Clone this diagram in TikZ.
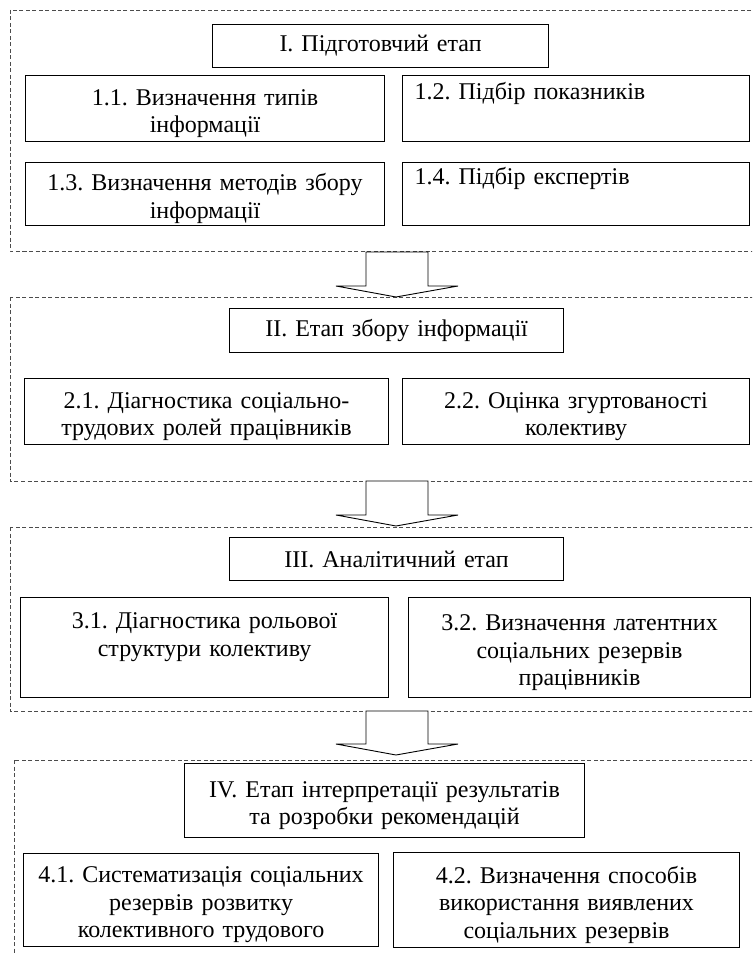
\documentclass[tikz,border=0pt]{standalone}
\usepackage{fontspec}
\setmainfont{Liberation Serif}
\usepackage{tikz}
\frenchspacing
\newcommand{\padtop}{\rule{0pt}{26pt}}

\begin{document}
\begin{tikzpicture}[x=1pt,y=-1pt,
    stageframe/.style={draw=black!70, line width=.8pt, dash pattern=on 4pt off 2.5pt},
    cell/.style={draw, line width=1.1pt, anchor=north west, inner xsep=6pt, inner ysep=0pt,
      align=center, font=\fontsize{24}{27.5}\selectfont},
    leftcell/.style={cell, align=left, inner xsep=12pt},
    blockarrow/.style={draw, fill=white, line width=.9pt, line join=miter}]
    \clip (0,0) rectangle (752,955);
    \fill[white] (0,0) rectangle (752,955);
    \draw[stageframe] (10,10) rectangle (770,251);
    \draw[stageframe] (10,297) rectangle (770,481);
    \draw[stageframe] (10,527) rectangle (770,711);
    \draw[stageframe] (14,760) rectangle (770,962);
    \node[cell, text width=324pt, minimum height=43pt] (prep) at (212,24) {I. Підготовчий етап};
    \node[cell, text width=347pt, minimum height=66pt] (types) at (25,75) {\padtop 1.1. Визначення типів\\ інформації};
    \node[leftcell, text width=323pt, minimum height=66pt] (indic) at (402,75) {1.2. Підбір показників\\ \strut};
    \node[cell, text width=347pt, minimum height=63pt] (methods) at (25,162) {\padtop 1.3. Визначення методів збору\\ інформації};
    \node[leftcell, text width=323pt, minimum height=63pt] (experts) at (402,162) {1.4. Підбір експертів\\ \strut};
    \node[cell, text width=322pt, minimum height=44pt] (collect) at (229,308) {II. Етап збору інформації};
    \node[cell, text width=352pt, minimum height=66pt] (roles) at (24,378) {\padtop 2.1. Діагностика соціально-\\ трудових ролей працівників};
    \node[cell, text width=335pt, minimum height=66pt] (cohesion) at (402,378) {\padtop 2.2. Оцінка згуртованості\\ колективу};
    \node[cell, text width=322pt, minimum height=43pt] (analysis) at (229,537) {III. Аналітичний етап};
    \node[cell, text width=356pt, minimum height=100pt] (structure) at (20,597) {\padtop 3.1. Діагностика рольової\\ структури колективу\\ \strut};
    \node[cell, text width=330pt, minimum height=100pt] (latent) at (408,597) {\padtop 3.2. Визначення латентних\\ соціальних резервів\\ працівників};
    \node[cell, text width=388pt, minimum height=74pt] (interp) at (184,763) {\padtop IV. Етап інтерпретації результатів\\ та розробки рекомендацій};
    \node[cell, text width=343pt, minimum height=93pt] (system) at (23,853) {\padtop 4.1. Систематизація соціальних\\ резервів розвитку\\ колективного трудового};
    \node[cell, text width=334pt, minimum height=95pt] (usage) at (393,852) {\padtop 4.2. Визначення способів\\ використання виявлених\\ соціальних резервів};
    \foreach \ya/\yb in {252/297, 481/526, 711/755}
      \draw[blockarrow] (366,\ya) -- (366,\yb-11) -- (336,\yb-11) -- (396,\yb) -- (458,\yb-11) -- (428,\yb-11) -- (428,\ya) -- cycle;
\end{tikzpicture}
\end{document}
